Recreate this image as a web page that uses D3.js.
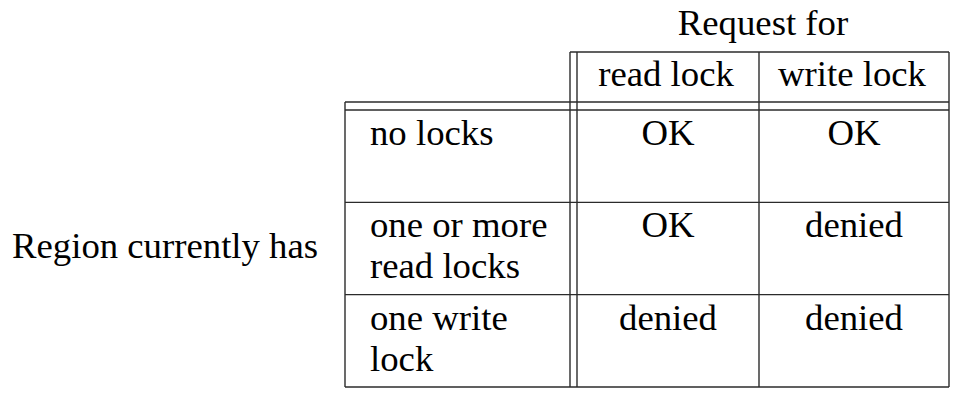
<!DOCTYPE html>
<html>
<head>
<meta charset="utf-8">
<script src="https://cdn.jsdelivr.net/npm/d3@7"></script>
<style>
  body { margin: 0; background: #fff; }
  text { font-family: "Liberation Serif", "DejaVu Serif", serif; fill: #000; }
</style>
</head>
<body>
<svg id="chart" width="972" height="410"></svg>
<script>
// table content
const colTitle = "Request for";
const rowTitle = "Region currently has";
const requestTypes = ["read lock", "write lock"];
const rowLabels = [["no locks"], ["one or more", "read locks"], ["one write", "lock"]];
const readLockCells = ["OK", "OK", "denied"];
const writeLockCells = ["OK", "denied", "denied"];

const svg = d3.select("#chart");
const fontSize = 35;
const stretch = 1.05; // widen the serif a bit, closer to the original face
const stroke = "#2b2b2b";

// column edges: label column, then the two request columns
const colEdges = d3.scaleOrdinal()
  .domain(["label", ...requestTypes, "end"])
  .range([345, 577, 759, 949]);

// rows share equal height
const rowScale = d3.scaleBand()
  .domain(d3.range(rowLabels.length))
  .range([110, 387]);

const headerTop = 52, headerBottom = 102;
const left = colEdges("label");
const right = colEdges("end");
const sep = colEdges(requestTypes[0]);
const bottom = rowScale.range()[1];

function line(x1, y1, x2, y2) {
  svg.append("line")
    .attr("x1", x1).attr("y1", y1).attr("x2", x2).attr("y2", y2)
    .attr("stroke", stroke).attr("stroke-width", 1.4);
}

function label(x, y, str, anchor) {
  svg.append("text")
    .attr("transform", `translate(${x},${y}) scale(${stretch},1)`)
    .attr("text-anchor", anchor || "start")
    .attr("font-size", fontSize)
    .text(str);
}

// header box and verticals
line(sep - 7, headerTop, right, headerTop);
line(sep - 7, headerTop, sep - 7, bottom);
line(sep, headerTop, sep, bottom);
line(colEdges(requestTypes[1]), headerTop, colEdges(requestTypes[1]), bottom);
line(right, headerTop, right, bottom);

// double rule under header
line(left, headerBottom, right, headerBottom);
line(left, rowScale(0), right, rowScale(0));
line(left, headerBottom, left, bottom);

// row separators
rowLabels.forEach((r, i) => {
  const y = rowScale(i) + rowScale.bandwidth();
  line(left, y, right, y);
});

// centre of each request column
const colCenter = (i) => {
  const a = colEdges(requestTypes[i]);
  const b = i + 1 < requestTypes.length ? colEdges(requestTypes[i + 1]) : right;
  return (a + b) / 2;
};

// titles
label((sep + right) / 2, 35, colTitle, "middle");
label(12, 258, rowTitle);

// column headers
requestTypes.forEach((t, i) => label(colCenter(i) - 2, 86, t, "middle"));

// row labels
rowLabels.forEach((lines, i) => {
  lines.forEach((l, j) => label(370, rowScale(i) + 35 + j * 41, l));
});

// cells
[readLockCells, writeLockCells].forEach((cells, c) => {
  cells.forEach((v, i) => label(colCenter(c), rowScale(i) + 35, v, "middle"));
});
</script>
</body>
</html>
